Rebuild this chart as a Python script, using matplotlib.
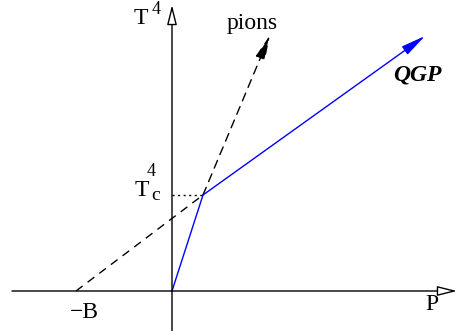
import matplotlib.pyplot as plt

# schematic values (P, T^4) in arbitrary units
origin = (0, 0)
crossing = (31, 96)        # T_c^4 point
minus_b = (-96, 0)         # QGP line intercept at -B
qgp_end = (253, 255)
pions_end = (98, 256)

plt.rcParams['font.family'] = ['Liberation Serif', 'DejaVu Serif']

fig = plt.figure(figsize=(4.58, 3.31), dpi=100)
ax = fig.add_axes([0, 0, 1, 1])
ax.set_xlim(-172, 286)
ax.set_ylim(-40, 291)
ax.axis('off')

# axes with open arrow heads
ax.annotate('', xy=(285, 0), xytext=(-160, 0),
            arrowprops=dict(arrowstyle='-|>,head_length=1.2,head_width=0.3',
                            fc='white', ec='black', lw=1.0, shrinkA=0, shrinkB=0))
ax.annotate('', xy=(0, 286), xytext=(0, -40),
            arrowprops=dict(arrowstyle='-|>,head_length=1.2,head_width=0.3',
                            fc='white', ec='black', lw=1.0, shrinkA=0, shrinkB=0))

# dotted guide to T_c^4
ax.plot([0, crossing[0]], [crossing[1], crossing[1]], color='black', lw=1.0,
        linestyle=(0, (1.5, 2.5)))

# dashed continuation of QGP line to -B
ax.plot([minus_b[0], crossing[0]], [minus_b[1], crossing[1]], color='black', lw=1.0,
        linestyle=(0, (6, 4.5)))

# pions: blue solid below crossing, dashed above
ax.plot([origin[0], crossing[0]], [origin[1], crossing[1]], color='blue', lw=1.0)
ax.annotate('', xy=pions_end, xytext=crossing,
            arrowprops=dict(arrowstyle='-|>,head_length=1.5,head_width=0.3',
                            fc='black', ec='black', lw=1.0, linestyle=(0, (6, 4.5)),
                            shrinkA=0, shrinkB=0))

# QGP line
ax.annotate('', xy=qgp_end, xytext=crossing,
            arrowprops=dict(arrowstyle='-|>,head_length=1.5,head_width=0.3',
                            fc='blue', ec='blue', lw=1.0, shrinkA=0, shrinkB=0))

fs = 17
ax.text(-31, 272, 'T', fontsize=fs, ha='center', va='center')
ax.text(-16, 281, '4', fontsize=13, ha='center', va='center')
ax.text(80, 268, 'pions', fontsize=fs, ha='center', va='center')
ax.text(245, 216, 'QGP', fontsize=fs, ha='center', va='center',
        fontweight='bold', fontstyle='italic')
ax.text(-30, 101, 'T', fontsize=fs, ha='center', va='center')
ax.text(-16, 95, 'c', fontsize=14, ha='center', va='center')
ax.text(-21, 119, '4', fontsize=13, ha='center', va='center')
ax.text(-88, -22, '\u2212B', fontsize=fs, ha='center', va='center')
ax.text(260, -14, 'P', fontsize=fs, ha='center', va='center')

fig.savefig('out.png', dpi=100)
